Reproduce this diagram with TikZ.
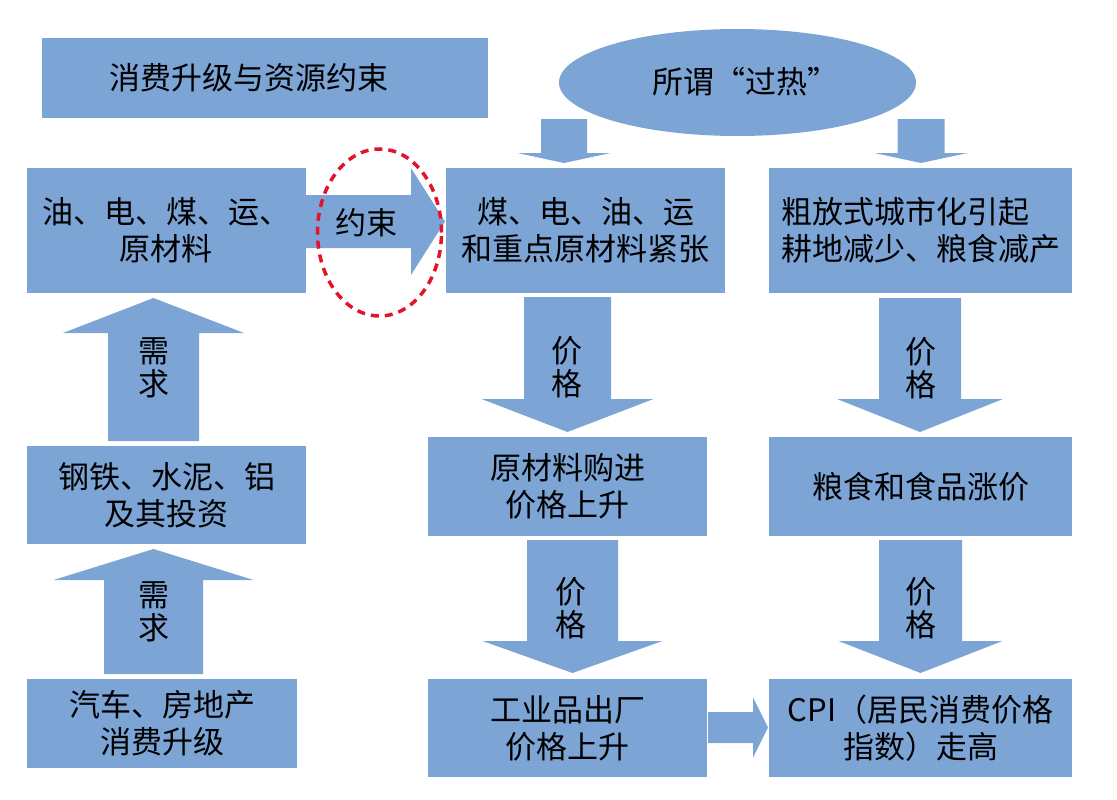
\documentclass[tikz,border=0pt]{standalone}
\usepackage{fontspec}
\newfontfamily\cjk{Noto Sans CJK SC}
\usetikzlibrary{shapes.geometric}
\definecolor{boxblue}{RGB}{124,164,213}
\definecolor{hlred}{RGB}{226,20,42}
\newcommand{\barrowdown}[6]{% cx, top, shaft half, head base, head half, apex
  \fill[boxblue] ({#1-#3},#2) -- ({#1+#3},#2) -- ({#1+#3},#4) -- ({#1+#5},#4) -- (#1,#6) -- ({#1-#5},#4) -- ({#1-#3},#4) -- cycle;}
\newcommand{\barrowup}[6]{% cx, bottom, shaft half, head base, head half, apex
  \fill[boxblue] ({#1-#3},#2) -- ({#1+#3},#2) -- ({#1+#3},#4) -- ({#1+#5},#4) -- (#1,#6) -- ({#1-#5},#4) -- ({#1-#3},#4) -- cycle;}
\newcommand{\barrowright}[6]{% cy, left, shaft half, head base, head half, tip
  \fill[boxblue] (#2,{#1-#3}) -- (#2,{#1+#3}) -- (#4,{#1+#3}) -- (#4,{#1+#5}) -- (#6,#1) -- (#4,{#1-#5}) -- (#4,{#1-#3}) -- cycle;}
\begin{document}
\begin{tikzpicture}[x=1pt,y=-1pt,
  box/.style={fill=boxblue, inner sep=0pt, align=center, font=\cjk\fontsize{31}{37}\selectfont},
  txt/.style={inner sep=0pt, align=center, font=\cjk\fontsize{31}{37}\selectfont},
  vtxt/.style={inner sep=0pt, align=center, font=\cjk\fontsize{31}{33}\selectfont}]
\useasboundingbox (0,0) rectangle (1117,800);

% title
\node[box, minimum width=446, minimum height=80] (title) at (265,78) {};
\node[txt] (titletext) at (249,78) {消费升级与资源约束};

% ellipse
\node[ellipse, fill=boxblue, inner sep=0pt, minimum width=357, minimum height=107,
      font=\cjk\fontsize{31}{37}\selectfont] (heat) at (737.5,82.5) {};
\node[txt] (heattext) at (745,82) {所谓“过热”};

% boxes
\node[box, minimum width=279, minimum height=125] (oil) at (166.5,230.5) {油、电、煤、运、\\原材料};
\node[box, minimum width=279, minimum height=125] (coal) at (585.5,230.5) {煤、电、油、运\\和重点原材料紧张};
\node[box, minimum width=303, minimum height=125] (urban) at (920.5,230.5) {};
\node[txt, align=left] (urbantext) at (920.5,230.5) {粗放式城市化引起\\耕地减少、粮食减产};
\node[box, minimum width=279, minimum height=99] (raw) at (567.5,486.5) {原材料购进\\价格上升};
\node[box, minimum width=303, minimum height=99] (food) at (920.5,486.5) {粮食和食品涨价};
\node[box, minimum width=279, minimum height=98] (steel) at (166.5,495) {钢铁、水泥、铝\\及其投资};
\node[box, minimum width=270, minimum height=89] (car) at (162,723.5) {汽车、房地产\\消费升级};
\node[box, minimum width=279, minimum height=98] (ind) at (567.5,728) {工业品出厂\\价格上升};
\node[box, minimum width=303, minimum height=98] (cpi) at (920.5,728) {CPI（居民消费价格\\指数）走高};

% block arrows
\barrowdown{564}{119}{23}{153}{46.5}{163}
\barrowdown{921}{119}{23.5}{153}{46.5}{163}
\barrowdown{567.5}{297}{43.5}{399}{86}{432}
\barrowdown{572.5}{540}{45.5}{641}{90}{673}
\barrowdown{920}{298}{41}{399}{83}{432}
\barrowdown{920.5}{540}{41.5}{641}{82}{673}
\barrowup{153.5}{441}{45.5}{333}{90.5}{298}
\barrowup{153.5}{674}{49.5}{580}{100}{549}
\barrowright{221.5}{306}{26.5}{411}{53.5}{445}
\barrowright{727.5}{708}{15.5}{753}{30}{768}

% arrow labels
\node[vtxt] (p1) at (567,367) {价\\格};
\node[vtxt] (p2) at (571,608) {价\\格};
\node[vtxt] (p3) at (921,368) {价\\格};
\node[vtxt] (p4) at (921,608) {价\\格};
\node[vtxt] (d1) at (153.5,368) {需\\求};
\node[vtxt] (d2) at (153.5,612) {需\\求};
\node[txt] (yue) at (366,223) {约束};

% red highlight
\node[ellipse, draw=hlred, line width=3.5pt, dash pattern=on 8pt off 6pt,
      inner sep=0pt, minimum width=124, minimum height=167] (hl) at (379.5,232.5) {};
\end{tikzpicture}
\end{document}
